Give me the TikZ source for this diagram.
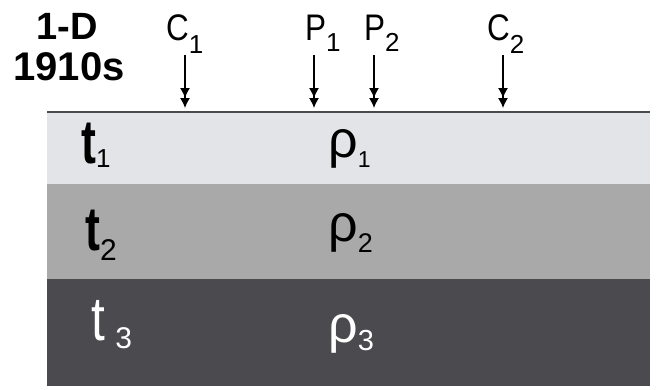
\documentclass[tikz,border=0pt]{standalone}
\usepackage{fontspec}
\usepackage{graphicx}
\setmainfont{Liberation Sans}
\usetikzlibrary{arrows.meta}
\definecolor{layA}{HTML}{E3E4E7}
\definecolor{layB}{HTML}{A9A9A9}
\definecolor{layC}{HTML}{4B4A4F}
\definecolor{surf}{HTML}{4A4A4A}
\newcommand{\fs}[1]{\fontsize{#1}{#1}\selectfont}
\newcommand{\subt}[3]{\raisebox{-#2pt}{\fs{#1}\mdseries #3}}
\newcommand{\nar}[2][0.85]{\scalebox{#1}[1]{#2}}
\begin{document}
\begin{tikzpicture}[x=1pt,y=-1pt,
  lbl/.style={inner sep=0pt,anchor=base west,font=\fs{37}},
  ttl/.style={inner sep=0pt,anchor=base,font=\fs{38}\bfseries},
  lay/.style={inner sep=0pt,anchor=base west,font=\fs{62}},
  rho/.style={inner sep=0pt,anchor=base west,font=\fs{52}},
  probe/.style={black,line width=1.3pt,-{Latex[length=10pt,width=10pt]Latex[length=10pt,width=10pt]}}]
\useasboundingbox (0,0) rectangle (662,389);
\fill[white] (0,0) rectangle (662,389);
% layers
\fill[layA] (47,112) rectangle (650,184);
\fill[layB] (47,184) rectangle (650,279);
\fill[layC] (47,279) rectangle (650,386);
\draw[surf,line width=2pt] (47,112) -- (650,112);
% title
\node[ttl] (oned) at (67,39) {1-D};
\node[ttl,font=\fs{40}\bfseries] (year) at (69,80) {1910s};
% electrode labels
\node[lbl] (C1) at (166,40) {\nar{C}\subt{26}{13}{1}};
\node[lbl] (P1) at (305,40) {\nar{P}\subt{26}{11}{1}};
\node[lbl] (P2) at (364,40) {\nar{P}\subt{26}{11}{2}};
\node[lbl] (C2) at (487,40) {\nar{C}\subt{26}{13}{2}};
% arrows
\coordinate (c1a) at (185,55); \coordinate (c1b) at (185,108);
\coordinate (p1a) at (314,55); \coordinate (p1b) at (314,108);
\coordinate (p2a) at (374,55); \coordinate (p2b) at (374,108);
\coordinate (c2a) at (503,55); \coordinate (c2b) at (503,108);
\draw[probe] (c1a) -- (c1b);
\draw[probe] (p1a) -- (p1b);
\draw[probe] (p2a) -- (p2b);
\draw[probe] (c2a) -- (c2b);
% layer labels
\node[lay,font=\fs{62}\bfseries] (t1) at (81,163) {\nar[0.72]{t}\subt{26}{4}{1}};
\node[lay,font=\fs{62}\bfseries] (t2) at (85,250) {\nar[0.72]{t}\subt{30}{10}{2}};
\node[lay,text=white] (t3) at (91,340) {\nar[0.8]{t}\,\subt{30}{8}{3}};
\node[rho] (r1) at (328,157) {ρ\subt{23}{10}{1}};
\node[rho] (r2) at (328,241) {ρ\subt{27}{11}{2}};
\node[rho,text=white] (r3) at (328,342) {ρ\subt{29}{8}{3}};
\end{tikzpicture}
\end{document}
